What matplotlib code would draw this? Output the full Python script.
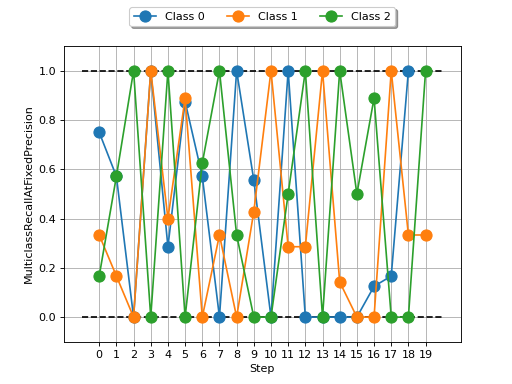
import numpy as np
import matplotlib
matplotlib.use("Agg")
import matplotlib.pyplot as plt

steps = list(range(20))
class0 = [0.75, 0.5714, 0.0, 1.0, 0.2857, 0.875, 0.5714, 0.0, 1.0, 0.5556,
          0.0, 1.0, 0.0, 0.0, 0.0, 0.0, 0.125, 0.1667, 1.0, np.nan]
class1 = [0.3333, 0.1667, 0.0, 1.0, 0.4, 0.8889, 0.0, 0.3333, 0.0, 0.4286,
          1.0, 0.2857, 0.2857, 1.0, 0.1429, 0.0, 0.0, 1.0, 0.3333, 0.3333]
class2 = [0.1667, 0.5714, 1.0, 0.0, 1.0, 0.0, 0.625, 1.0, 0.3333, 0.0,
          0.0, 0.5, 1.0, 0.0, 1.0, 0.5, 0.8889, 0.0, 0.0, 1.0]
labels = ["Class 0", "Class 1", "Class 2"]

fig, ax = plt.subplots(figsize=(6.4, 4.8), dpi=80)
ax.hlines([0, 1], -1, 20, colors="k", linestyles="dashed")
for vals, lab in zip([class0, class1, class2], labels):
    ax.plot(steps, vals, marker="o", markersize=10, label=lab)
ax.set_xticks(steps)
ax.set_ylim(-0.1, 1.1)
ax.grid(True)
ax.set_xlabel("Step")
ax.set_ylabel("MulticlassRecallAtFixedPrecision")
ax.legend(loc="upper center", bbox_to_anchor=(0.5, 1.15), ncol=3, shadow=True)
fig.savefig("out.png")
